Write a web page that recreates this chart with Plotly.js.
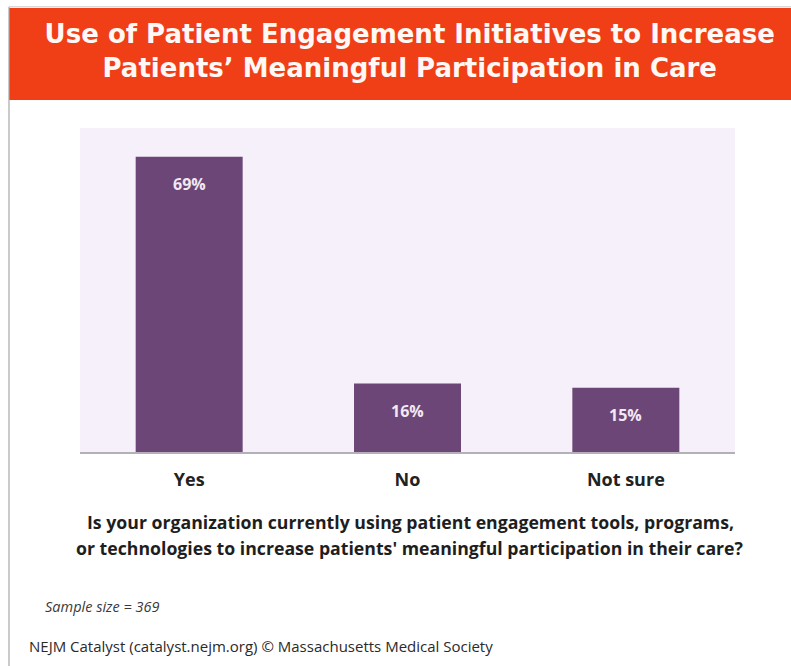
<!DOCTYPE html>
<html>
<head>
<meta charset="utf-8">
<script src="https://cdn.plot.ly/plotly-3.0.1.min.js"></script>
<style>html,body{margin:0;padding:0;background:#fff;}#chart{width:791px;height:666px;}</style>
</head>
<body>
<div id="chart"></div>
<script>
const categories = ['Yes', 'No', 'Not sure'];
const percentValues = [69, 16, 15];
const valueLabels = ['69%', '16%', '15%'];

const titleLines = ['Use of Patient Engagement Initiatives to Increase', 'Patients\u2019 Meaningful Participation in Care'];
const questionLines = ['Is your organization currently using patient engagement tools, programs,', 'or technologies to increase patients\' meaningful participation in their care?'];
const sampleText = 'Sample size = 369';
const sourceText = 'NEJM Catalyst (catalyst.nejm.org) \u00a9 Massachusetts Medical Society';

const BAR = '#6c4676';
const FONT = '"Open Sans", Lato, sans-serif';

const trace = {
  type: 'bar',
  x: categories,
  y: percentValues,
  marker: {color: BAR},
  width: 0.49,
  hoverinfo: 'skip'
};

const barLabels = categories.map((c, i) => ({
  x: c, y: percentValues[i], xref: 'x', yref: 'y',
  text: '<b>' + valueLabels[i] + '</b>',
  showarrow: false, yanchor: 'middle', yshift: -27,
  font: {family: FONT, size: 16, color: '#f1e9f2'}
}));

const layout = {
  width: 791, height: 666,
  margin: {l: 80, r: 56, t: 128, b: 214},
  paper_bgcolor: '#ffffff',
  plot_bgcolor: '#f5f0f9',
  showlegend: false,
  title: {
    text: titleLines.join('<br>'),
    font: {family: '"DejaVu Sans", sans-serif', size: 26, color: '#fff8f4', weight: 'bold'},
    x: 0.518, xref: 'container', xanchor: 'center',
    y: 0.935, yref: 'container', yanchor: 'middle'
  },
  xaxis: {
    showgrid: false, zeroline: false,
    showline: true, linecolor: '#b5b0b8', linewidth: 1.5,
    ticks: 'outside', ticklen: 11, tickcolor: 'rgba(0,0,0,0)',
    tickfont: {family: FONT, size: 18, color: '#222222', weight: 'bold'},
    fixedrange: true
  },
  yaxis: {
    range: [0, 75.7], visible: false, showgrid: false, zeroline: false, fixedrange: true
  },
  shapes: [
    {type: 'rect', xref: 'paper', yref: 'paper', x0: -0.1084, x1: 1.09, y0: 1.0864, y1: 1.3704,
     fillcolor: '#f03e17', line: {width: 0}, layer: 'below'},
    {type: 'line', xref: 'paper', yref: 'paper', x0: -0.1084, x1: -0.1084, y0: -0.7, y1: 1.374,
     line: {color: '#a8a8a8', width: 1.2}},
    {type: 'line', xref: 'paper', yref: 'paper', x0: -0.1084, x1: 1.09, y0: 1.374, y1: 1.374,
     line: {color: '#c8c8c8', width: 1}}
  ],
  annotations: barLabels.concat([
    {xref: 'paper', yref: 'paper', x: 0.504, y: (452 - 522) / 324, xanchor: 'center', yanchor: 'middle',
     text: '<b>' + questionLines[0] + '</b>', showarrow: false,
     font: {family: FONT, size: 17.7, color: '#1e1e1e'}},
    {xref: 'paper', yref: 'paper', x: 0.504, y: (452 - 548) / 324, xanchor: 'center', yanchor: 'middle',
     text: '<b>' + questionLines[1] + '</b>', showarrow: false,
     font: {family: FONT, size: 17.7, color: '#1e1e1e'}},
    {xref: 'paper', yref: 'paper', x: (43 - 80) / 655, y: (452 - 606) / 324, xanchor: 'left', yanchor: 'middle',
     text: '<i>' + sampleText + '</i>', showarrow: false,
     font: {family: FONT, size: 14.5, color: '#3a3a3a'}},
    {xref: 'paper', yref: 'paper', x: (27 - 80) / 655, y: (452 - 646) / 324, xanchor: 'left', yanchor: 'middle',
     text: sourceText, showarrow: false,
     font: {family: FONT, size: 15, color: '#2a2a2a'}}
  ])
};

Plotly.newPlot('chart', [trace], layout, {displayModeBar: false, staticPlot: true});
</script>
</body>
</html>
